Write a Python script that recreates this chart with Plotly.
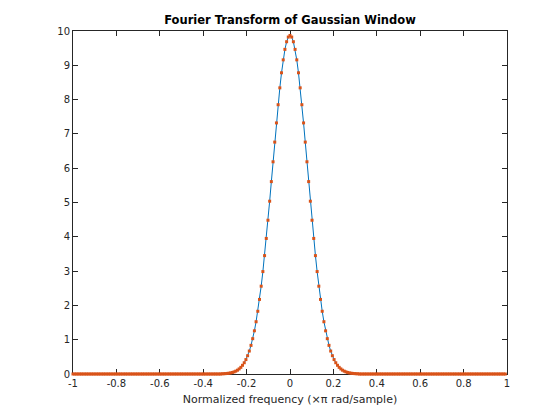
import numpy as np
import plotly.graph_objects as go

# frequency grid: 256 bins, normalized frequency (x pi rad/sample)
k = np.arange(-128, 128)
freq = k / 128.0

# magnitude values (bins -128 .. 127)
zeros_left = [0.0, 0.0, 0.0, 0.0, 0.0, 0.0, 0.0, 0.0, 0.0, 0.0, 0.0, 0.0, 0.0, 0.0, 0.0, 0.0, 0.0, 0.0, 0.0, 0.0, 0.0, 0.0,
              0.0, 0.0, 0.0, 0.0, 0.0, 0.0, 0.0, 0.0, 0.0, 0.0, 0.0, 0.0, 0.0, 0.0, 0.0, 0.0, 0.0, 0.0, 0.0, 0.0, 0.0, 0.0,
              0.0, 0.0, 0.0, 0.0, 0.0, 0.0, 0.0, 0.0, 0.0, 0.0, 0.0, 0.0, 0.0, 0.0, 0.0, 0.0, 0.0, 0.0, 0.0, 0.0, 0.0, 0.0,
              0.0, 0.0, 0.0, 0.0, 0.0, 0.0, 0.0, 0.0, 0.0, 0.0, 0.0, 0.0, 0.0, 0.0, 0.0, 0.0, 0.0, 0.0, 0.0, 0.0, 0.0, 0.0]
central = [0.006, 0.008, 0.012, 0.017, 0.023, 0.032, 0.045, 0.061, 0.083, 0.111,
           0.148, 0.194, 0.254, 0.328, 0.420, 0.533, 0.670, 0.835, 1.030, 1.259,
           1.524, 1.829, 2.174, 2.560, 2.986, 3.451, 3.952, 4.483, 5.038, 5.609,
           6.187, 6.761, 7.320, 7.851, 8.343, 8.782, 9.159, 9.464, 9.687, 9.824,
           9.870,
           9.824, 9.687, 9.464, 9.159, 8.782, 8.343, 7.851, 7.320, 6.761, 6.187,
           5.609, 5.038, 4.483, 3.952, 3.451, 2.986, 2.560, 2.174, 1.829, 1.524,
           1.259, 1.030, 0.835, 0.670, 0.533, 0.420, 0.328, 0.254, 0.194, 0.148,
           0.111, 0.083, 0.061, 0.045, 0.032, 0.023, 0.017, 0.012, 0.008, 0.006]
zeros_right = [0.0, 0.0, 0.0, 0.0, 0.0, 0.0, 0.0, 0.0, 0.0, 0.0, 0.0, 0.0, 0.0, 0.0, 0.0, 0.0, 0.0, 0.0, 0.0, 0.0, 0.0, 0.0,
               0.0, 0.0, 0.0, 0.0, 0.0, 0.0, 0.0, 0.0, 0.0, 0.0, 0.0, 0.0, 0.0, 0.0, 0.0, 0.0, 0.0, 0.0, 0.0, 0.0, 0.0, 0.0,
               0.0, 0.0, 0.0, 0.0, 0.0, 0.0, 0.0, 0.0, 0.0, 0.0, 0.0, 0.0, 0.0, 0.0, 0.0, 0.0, 0.0, 0.0, 0.0, 0.0, 0.0, 0.0,
               0.0, 0.0, 0.0, 0.0, 0.0, 0.0, 0.0, 0.0, 0.0, 0.0, 0.0, 0.0, 0.0, 0.0, 0.0, 0.0, 0.0, 0.0, 0.0, 0.0, 0.0]
dft_mag = zeros_left + central + zeros_right
analytic_mag = list(dft_mag)

x_ticks = [-1, -0.8, -0.6, -0.4, -0.2, 0, 0.2, 0.4, 0.6, 0.8, 1]
x_tick_labels = ["-1", "-0.8", "-0.6", "-0.4", "-0.2", "0", "0.2", "0.4", "0.6", "0.8", "1"]
y_ticks = list(range(0, 11))

fig = go.Figure()
fig.add_trace(go.Scatter(x=freq, y=dft_mag, mode="lines",
                         line=dict(color="#0072BD", width=1), cliponaxis=False,
                         showlegend=False))
fig.add_trace(go.Scatter(x=freq, y=analytic_mag, mode="markers",
                         marker=dict(color="#D95319", size=3, symbol="square"),
                         cliponaxis=False, showlegend=False))

axis_common = dict(showline=True, linecolor="#262626", linewidth=1, mirror="ticks",
                   ticks="inside", ticklen=5, tickcolor="#262626", showgrid=False,
                   zeroline=False, tickfont=dict(family="DejaVu Sans", size=10, color="#262626"),
                   layer="below traces")

fig.update_layout(
    width=560, height=420,
    margin=dict(l=65, r=61, t=23, b=54),
    paper_bgcolor="white", plot_bgcolor="white",
    title=dict(text="<b>Fourier Transform of Gaussian Window</b>", x=0.5, xanchor="center",
               xref="paper", y=1 - 12 / 420, yanchor="middle",
               font=dict(family="DejaVu Sans", size=11.5, color="black")),
    xaxis=dict(range=[-1, 1], tickvals=x_ticks, ticktext=x_tick_labels,
               title=dict(text="Normalized frequency (×π rad/sample)", standoff=7,
                          font=dict(family="DejaVu Sans", size=11, color="#262626")),
               **axis_common),
    yaxis=dict(range=[0, 10], tickvals=y_ticks, **axis_common),
)

fig.write_html("out.html")
